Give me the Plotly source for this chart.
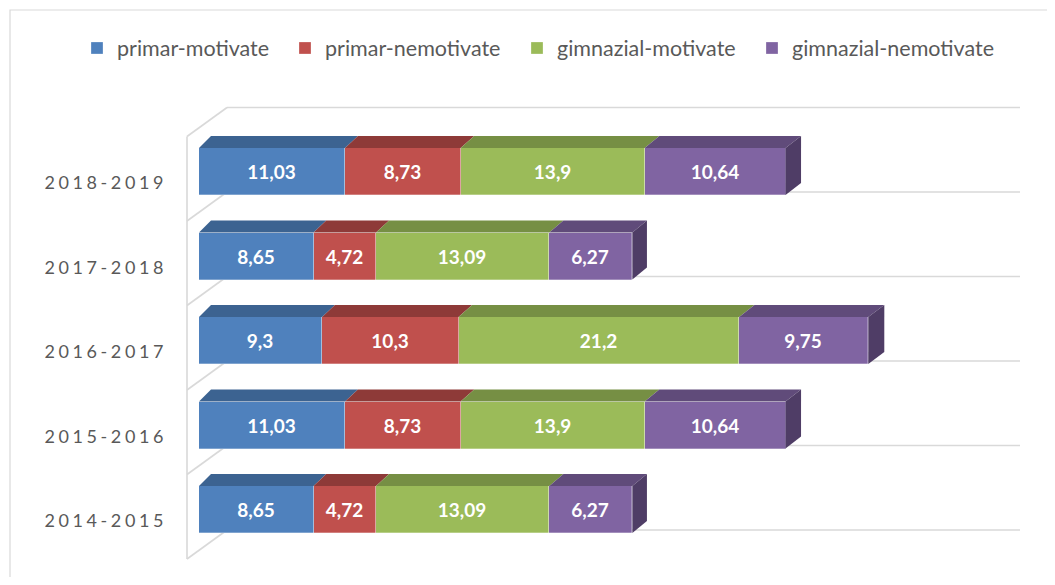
import plotly.graph_objects as go

# ---------------- data ----------------
years = ["2014-2015", "2015-2016", "2016-2017", "2017-2018", "2018-2019"]
series_names = ["primar-motivate", "primar-nemotivate", "gimnazial-motivate", "gimnazial-nemotivate"]
primar_motivate = [8.65, 11.03, 9.3, 8.65, 11.03]
primar_nemotivate = [4.72, 8.73, 10.3, 4.72, 8.73]
gimnazial_motivate = [13.09, 13.9, 21.2, 13.09, 13.9]
gimnazial_nemotivate = [6.27, 10.64, 9.75, 6.27, 10.64]
series_values = [primar_motivate, primar_nemotivate, gimnazial_motivate, gimnazial_nemotivate]

# ---------------- style ----------------
front_colors = ["#4F81BD", "#C0504D", "#9BBB59", "#8064A2"]
top_colors = ["#3C6391", "#8E3A38", "#768F44", "#604B7A"]
side_color = "#4F3D66"
grid_color = "#D9D9D9"
text_gray = "#595959"
FONT = "Lato"
legend_square_px = [92, 300, 532, 767]   # page x of each legend swatch

OFF = 8                      # page body margin
W, H = 1055 - 2 * OFF, 585 - 2 * OFF
PLOT_L, PLOT_R, PLOT_T, PLOT_B = 180, 1025, 100, 565   # page pixels
ML, MR, MT, MB = PLOT_L - OFF, W - (PLOT_R - OFF), PLOT_T - OFF, H - (PLOT_B - OFF)
PLOT_W = PLOT_R - PLOT_L
PLOT_H = PLOT_B - PLOT_T

PX_X = 13.24          # pixels per value unit
ZERO_PX = 199         # page pixel where value 0 sits
PX_Y = 84.5           # pixels per category step
FRONT_TOP_CAT_PX = 171.5  # page pixel centre of top category front face


def paper_x(px):
    return (px - PLOT_L) / PLOT_W


def paper_y(py):
    return (PLOT_B - py) / PLOT_H


x_range = [(PLOT_L - ZERO_PX) / PX_X, (PLOT_R - ZERO_PX) / PX_X]
n = len(years)
top_idx = n - 1
y_hi = top_idx + (FRONT_TOP_CAT_PX - PLOT_T) / PX_Y
y_lo = y_hi - PLOT_H / PX_Y

BW = 47 / PX_Y          # bar thickness in category units
DY = 12 / PX_Y          # depth rise


def DX(x):
    return (12 + 0.0793 * x) / PX_X   # depth shift (slight perspective)


positions = list(range(n))
legend_ids = ["legend", "legend2", "legend3", "legend4"]

fig = go.Figure()
for name, vals, col, lid in zip(series_names, series_values, front_colors, legend_ids):
    fig.add_trace(go.Bar(
        y=positions, x=vals, name=name, orientation="h", legend=lid,
        width=BW, marker=dict(color=col, line=dict(width=0.8, color="rgba(255,255,255,0.35)")),
        text=[f"{v:g}".replace(".", ",") for v in vals],
        textposition="inside", insidetextanchor="middle", constraintext="none",
        textangle=0,
        textfont=dict(family=FONT, size=19, color="white", weight="bold"),
        hoverinfo="skip",
    ))

shapes = []
# back/side walls (floor lines per category)
G = 64 / PX_Y
wall_dx = -12 / PX_X
wall_back = (227 - ZERO_PX) / PX_X
wall_right = (1020 - ZERO_PX) / PX_X
wall_drop = 29 / PX_Y
line_style = dict(color=grid_color, width=1.6)
for k in range(-1, n):
    yg = k + G
    shapes.append(dict(type="line", xref="x", yref="y", x0=wall_back, x1=wall_right, y0=yg, y1=yg,
                       line=line_style, layer="below"))
    shapes.append(dict(type="line", xref="x", yref="y", x0=wall_dx, x1=wall_back, y0=yg - wall_drop, y1=yg,
                       line=line_style, layer="below"))
shapes.append(dict(type="line", xref="x", yref="y", x0=wall_dx, x1=wall_dx,
                   y0=-1 + G - wall_drop, y1=top_idx + G - wall_drop, line=line_style, layer="below"))

# 3D top and side faces computed from the data
for i in positions:
    cum = 0.0
    yt = i + BW / 2
    yb = i - BW / 2
    for s, vals in enumerate(series_values):
        x0, x1 = cum, cum + vals[i]
        path = (f"M {x0},{yt} L {x1},{yt} L {x1 + DX(x1)},{yt + DY} "
                f"L {x0 + DX(x0)},{yt + DY} Z")
        shapes.append(dict(type="path", xref="x", yref="y", path=path,
                           fillcolor=top_colors[s], line=dict(width=0), layer="above"))
        cum = x1
    path = (f"M {cum},{yb} L {cum},{yt} L {cum + DX(cum)},{yt + DY} "
            f"L {cum + DX(cum)},{yb + DY} Z")
    shapes.append(dict(type="path", xref="x", yref="y", path=path,
                       fillcolor=side_color, line=dict(width=0), layer="above"))

# outer chart border
shapes.append(dict(type="rect", xref="paper", yref="paper",
                   x0=paper_x(10), x1=paper_x(1100), y0=paper_y(640), y1=paper_y(10),
                   line=dict(color=grid_color, width=1.2), fillcolor="rgba(0,0,0,0)", layer="below"))

legend_common = dict(orientation="h", xanchor="left", y=paper_y(48), yanchor="middle",
                     itemwidth=30, font=dict(family=FONT, size=21.5, color=text_gray),
                     bgcolor="rgba(0,0,0,0)")
legends = {lid: dict(legend_common, x=paper_x(sq - 15)) for lid, sq in zip(legend_ids, legend_square_px)}

label_offset = 11.5 / PX_Y
fig.update_layout(
    width=W, height=H,
    margin=dict(l=ML, r=MR, t=MT, b=MB, pad=0),
    paper_bgcolor="white", plot_bgcolor="rgba(0,0,0,0)",
    barmode="stack", bargap=0,
    shapes=shapes,
    showlegend=True,
    xaxis=dict(range=x_range, visible=False, fixedrange=True),
    yaxis=dict(range=[y_lo, y_hi], tickmode="array",
               tickvals=[p - label_offset for p in positions],
               ticktext=[f'<span style="letter-spacing:3.6px">{y}</span>' for y in years],
               showgrid=False, zeroline=False, showline=False, ticks="",
               ticklabelstandoff=12,
               tickfont=dict(family=FONT, size=18, color=text_gray), fixedrange=True),
    font=dict(family=FONT),
    **legends,
)

fig.write_html("out.html", config={"displayModeBar": False})
